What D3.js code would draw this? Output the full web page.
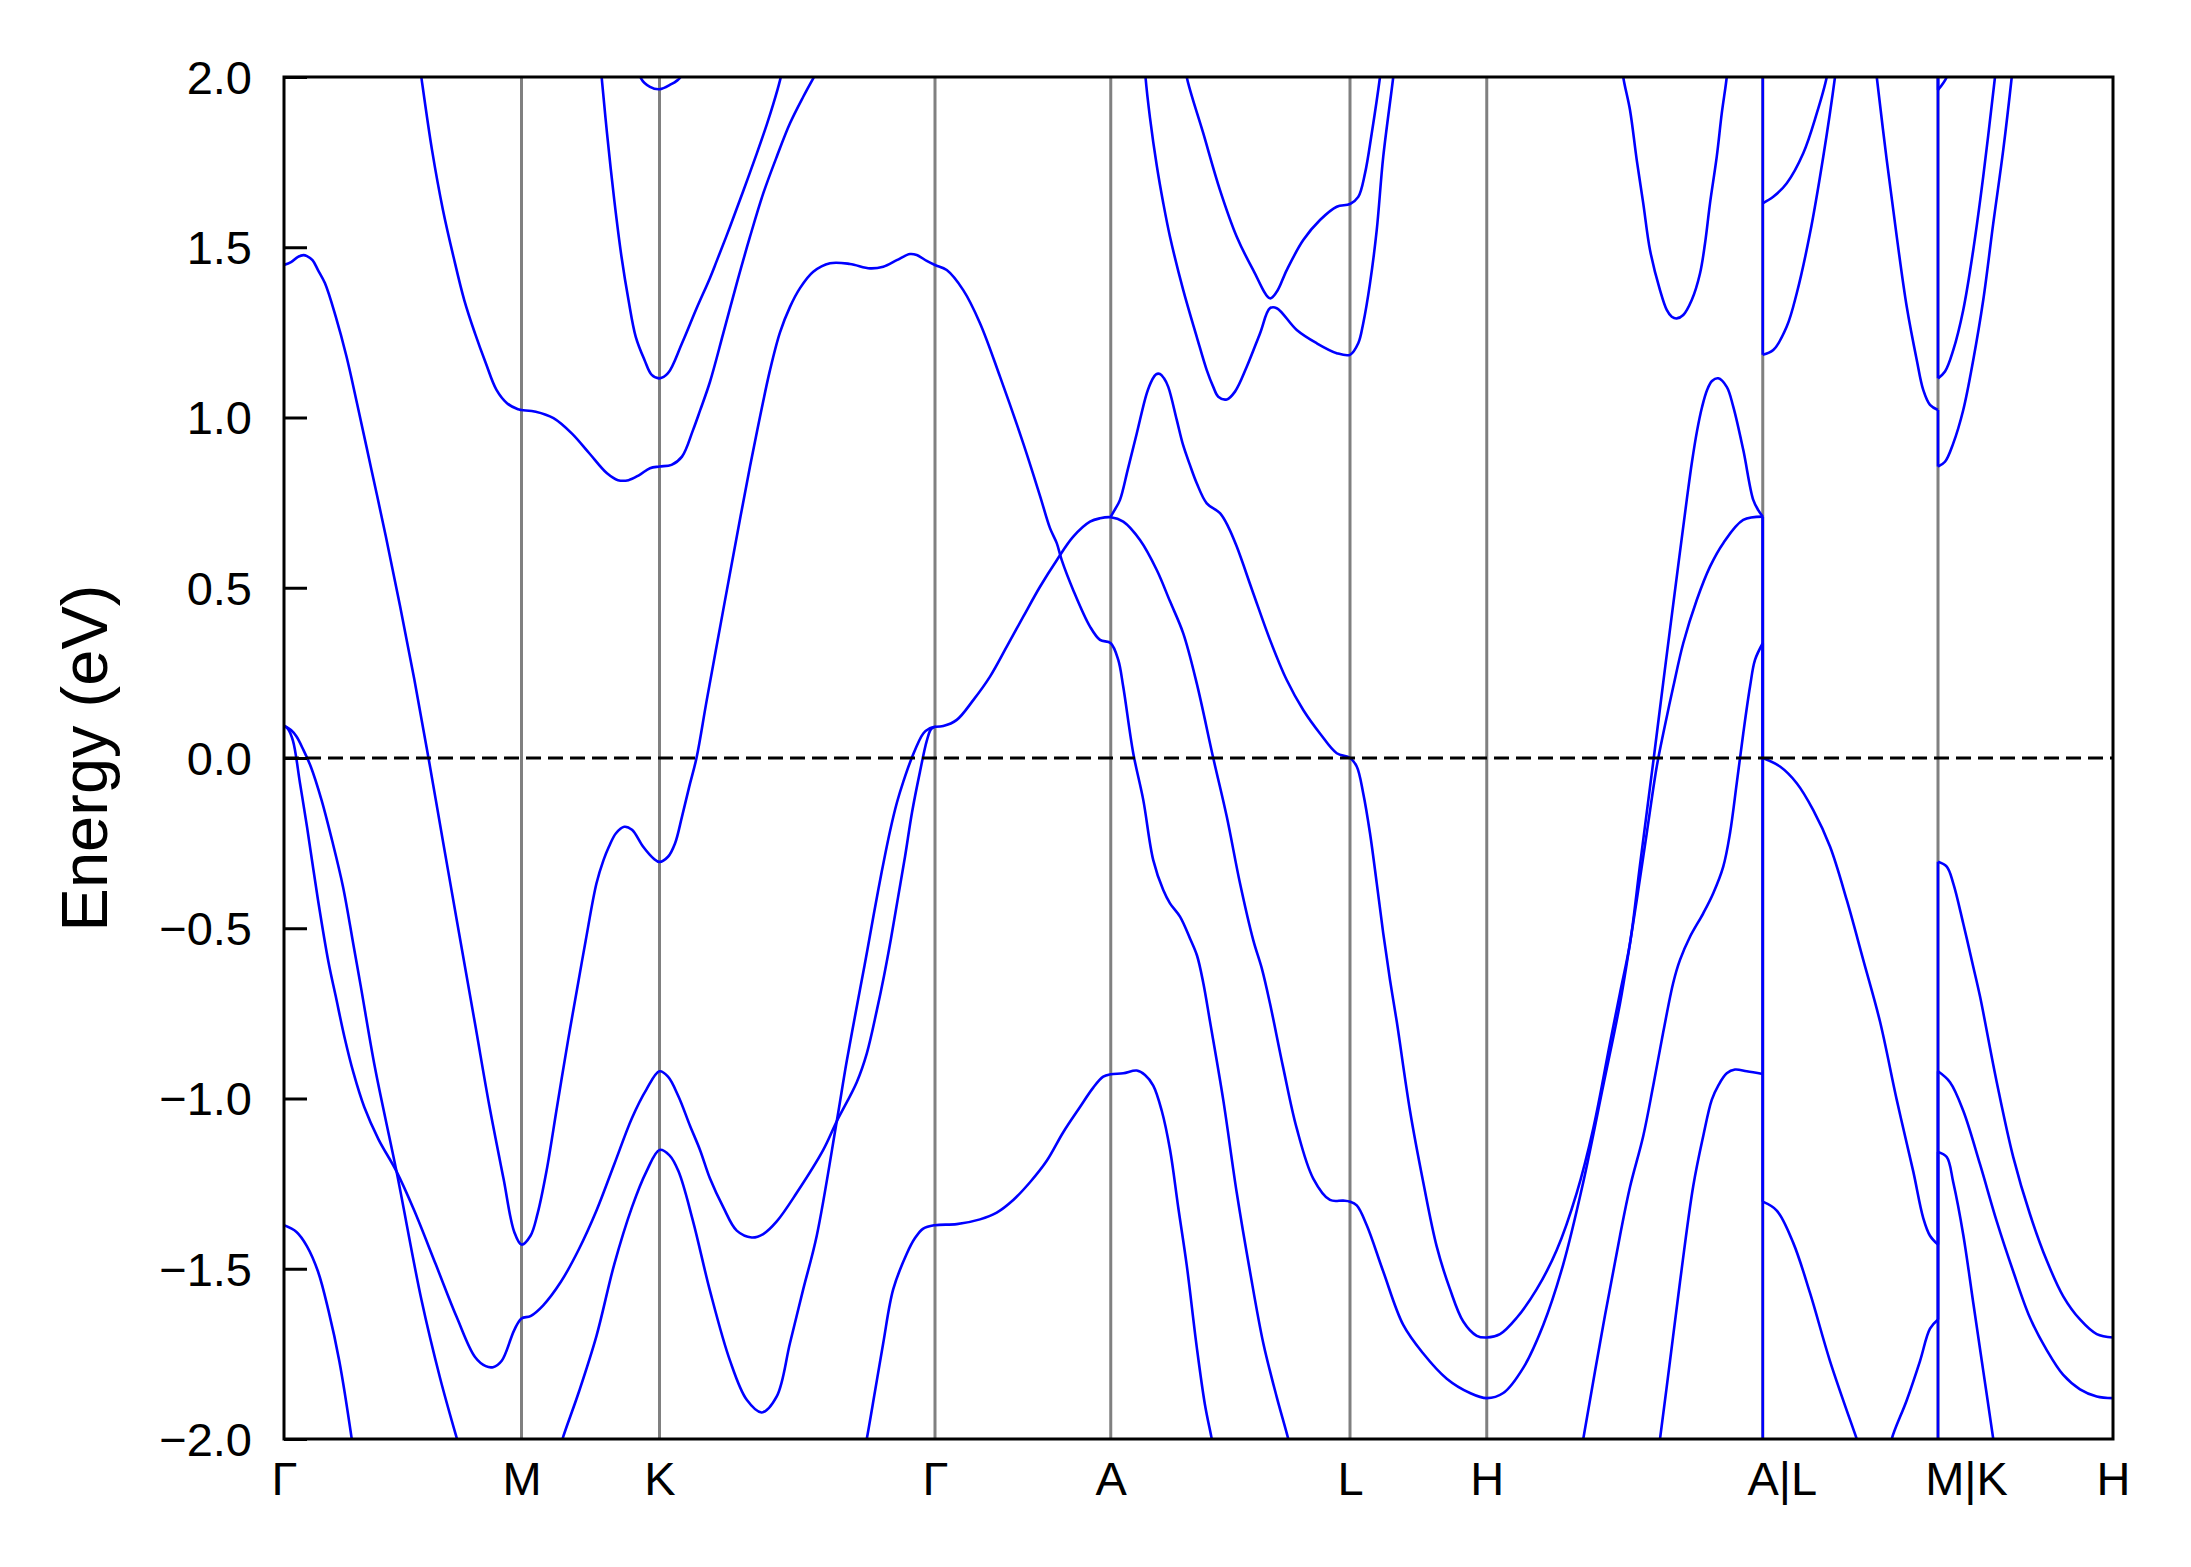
<!DOCTYPE html>
<html><head><meta charset="utf-8">
<script src="https://cdn.jsdelivr.net/npm/d3@7"></script>
<style>body{margin:0;background:#fff}svg{display:block}</style>
</head><body>
<svg id="chart" width="2191" height="1567"></svg>
<script>
// ---------- data ----------
const kPath = [0, 0.950, 1.502, 2.604, 3.307, 4.264, 4.811, 5.915, 6.616, 7.316];
const kLabels = ["Γ","M","K","Γ","A","L","H","A|L","M|K","H"];
const eTicks = [-2.0,-1.5,-1.0,-0.5,0.0,0.5,1.0,1.5,2.0];
const eTickLabels = ["−2.0","−1.5","−1.0","−0.5","0.0","0.5","1.0","1.5","2.0"];

const b01 = [[0,1.448],[0.028,1.456],[0.056,1.472],[0.078,1.477],[0.092,1.474],[0.114,1.462],[0.136,1.433],[0.164,1.394],[0.207,1.296],[0.250,1.179],[0.292,1.042],[0.350,0.846],[0.407,0.652],[0.464,0.447],[0.521,0.232],[0.578,0.0],[0.636,-0.245],[0.692,-0.480],[0.764,-0.780],[0.821,-1.020],[0.878,-1.235],[0.921,-1.392],[0.950,-1.429],[0.986,-1.403],[1.014,-1.339],[1.050,-1.213],[1.092,-1.025],[1.136,-0.830],[1.178,-0.655],[1.207,-0.535],[1.250,-0.368],[1.278,-0.300],[1.300,-0.260],[1.328,-0.221],[1.361,-0.202],[1.392,-0.211],[1.436,-0.260],[1.478,-0.295],[1.502,-0.305],[1.536,-0.290],[1.564,-0.251],[1.592,-0.172],[1.621,-0.084],[1.650,0.0],[1.691,0.170],[1.757,0.435],[1.811,0.650],[1.864,0.856],[1.904,1.002],[1.944,1.139],[1.984,1.250],[2.024,1.325],[2.064,1.380],[2.117,1.428],[2.184,1.453],[2.264,1.451],[2.344,1.438],[2.397,1.443],[2.451,1.462],[2.504,1.480],[2.531,1.477],[2.571,1.460],[2.604,1.448],[2.651,1.433],[2.717,1.374],[2.784,1.277],[2.864,1.120],[2.957,0.924],[3.024,0.770],[3.064,0.675],[3.091,0.631],[3.111,0.581],[3.157,0.493],[3.224,0.386],[3.264,0.347],[3.307,0.337],[3.337,0.288],[3.357,0.209],[3.397,0.014],[3.437,-0.123],[3.477,-0.300],[3.517,-0.388],[3.544,-0.427],[3.584,-0.466],[3.624,-0.530],[3.652,-0.580],[3.677,-0.660],[3.704,-0.774],[3.757,-1.004],[3.811,-1.277],[3.864,-1.508],[3.917,-1.718],[3.971,-1.877],[4.017,-2.0],[4.032,-2.05]];
const b02 = [[0,0.095],[0.016,0.085],[0.036,0.050],[0.064,-0.074],[0.092,-0.202],[0.136,-0.417],[0.178,-0.600],[0.207,-0.700],[0.242,-0.820],[0.278,-0.925],[0.321,-1.025],[0.378,-1.120],[0.450,-1.214],[0.521,-1.329],[0.607,-1.487],[0.692,-1.644],[0.764,-1.759],[0.807,-1.786],[0.836,-1.789],[0.871,-1.770],[0.921,-1.680],[0.950,-1.646],[0.986,-1.639],[1.036,-1.608],[1.107,-1.539],[1.178,-1.445],[1.250,-1.329],[1.321,-1.193],[1.392,-1.057],[1.450,-0.973],[1.502,-0.920],[1.536,-0.936],[1.578,-0.994],[1.624,-1.080],[1.664,-1.151],[1.704,-1.235],[1.757,-1.319],[1.811,-1.388],[1.871,-1.408],[1.917,-1.398],[1.971,-1.361],[2.051,-1.277],[2.157,-1.151],[2.211,-1.067],[2.291,-0.952],[2.331,-0.868],[2.371,-0.742],[2.400,-0.640],[2.428,-0.530],[2.456,-0.410],[2.484,-0.290],[2.512,-0.160],[2.544,-0.040],[2.571,0.050],[2.588,0.085],[2.604,0.092]];
const b03 = [[1.104,-2.03],[1.114,-2.0],[1.178,-1.865],[1.250,-1.697],[1.321,-1.487],[1.392,-1.319],[1.450,-1.214],[1.502,-1.151],[1.542,-1.167],[1.578,-1.214],[1.636,-1.360],[1.704,-1.565],[1.784,-1.770],[1.851,-1.885],[1.911,-1.922],[1.971,-1.875],[2.024,-1.718],[2.077,-1.560],[2.131,-1.403],[2.211,-1.067],[2.251,-0.890],[2.304,-0.680],[2.332,-0.570],[2.360,-0.455],[2.392,-0.330],[2.424,-0.215],[2.452,-0.130],[2.477,-0.070],[2.511,0.0],[2.557,0.072],[2.584,0.088],[2.604,0.092]];
const b04 = [[0,0.095],[0.028,0.082],[0.050,0.063],[0.078,0.023],[0.107,-0.025],[0.150,-0.123],[0.192,-0.241],[0.236,-0.378],[0.278,-0.550],[0.307,-0.670],[0.364,-0.910],[0.450,-1.214],[0.550,-1.592],[0.624,-1.820],[0.692,-2.0],[0.704,-2.03]];
const b05 = [[0,-1.372],[0.050,-1.392],[0.092,-1.434],[0.136,-1.508],[0.178,-1.623],[0.221,-1.770],[0.271,-2.0],[0.280,-2.05]];
const b06 = [[0.540,2.05],[0.550,1.996],[0.592,1.786],[0.636,1.609],[0.678,1.472],[0.721,1.345],[0.764,1.247],[0.807,1.160],[0.850,1.081],[0.892,1.042],[0.936,1.024],[0.950,1.022],[1.007,1.017],[1.078,0.998],[1.150,0.954],[1.221,0.895],[1.292,0.836],[1.336,0.816],[1.378,0.816],[1.421,0.831],[1.464,0.851],[1.502,0.856],[1.550,0.861],[1.592,0.885],[1.636,0.963],[1.664,1.020],[1.704,1.105],[1.757,1.247],[1.811,1.394],[1.864,1.531],[1.917,1.658],[1.971,1.766],[2.024,1.864],[2.077,1.942],[2.117,1.996],[2.128,2.01]];
const b07 = [[1.264,2.05],[1.271,1.996],[1.292,1.835],[1.321,1.639],[1.350,1.472],[1.378,1.345],[1.407,1.237],[1.442,1.169],[1.471,1.125],[1.502,1.115],[1.536,1.130],[1.592,1.218],[1.650,1.320],[1.704,1.410],[1.731,1.460],[1.784,1.560],[1.837,1.665],[1.891,1.775],[1.931,1.860],[1.957,1.920],[1.984,1.990],[1.996,2.03]];
const b08 = [[1.416,2.05],[1.428,1.996],[1.464,1.971],[1.502,1.964],[1.542,1.976],[1.586,2.0],[1.596,2.05]];
const b09 = [[2.604,0.092],[2.637,0.094],[2.691,0.112],[2.757,0.170],[2.824,0.239],[2.891,0.327],[2.957,0.415],[3.024,0.503],[3.091,0.581],[3.157,0.650],[3.224,0.694],[3.264,0.704],[3.307,0.707],[3.357,0.694],[3.424,0.640],[3.491,0.552],[3.544,0.460],[3.597,0.366],[3.651,0.219],[3.717,0.0],[3.771,-0.172],[3.824,-0.368],[3.877,-0.535],[3.912,-0.620],[3.944,-0.721],[3.997,-0.910],[4.051,-1.088],[4.117,-1.235],[4.184,-1.298],[4.237,-1.300],[4.264,-1.303],[4.291,-1.314],[4.331,-1.372],[4.397,-1.508],[4.477,-1.665],[4.557,-1.749],[4.651,-1.823],[4.744,-1.865],[4.811,-1.880],[4.877,-1.865],[4.957,-1.791],[5.037,-1.665],[5.117,-1.487],[5.197,-1.246],[5.277,-0.962],[5.344,-0.721],[5.384,-0.544],[5.411,-0.417],[5.451,-0.221],[5.491,-0.025],[5.517,0.072],[5.557,0.209],[5.597,0.337],[5.651,0.464],[5.704,0.562],[5.757,0.631],[5.837,0.699],[5.915,0.709]];
const b10 = [[5.915,0.0],[5.984,-0.025],[6.051,-0.074],[6.117,-0.153],[6.184,-0.260],[6.251,-0.417],[6.317,-0.593],[6.384,-0.774],[6.451,-1.004],[6.517,-1.214],[6.557,-1.351],[6.584,-1.403],[6.616,-1.429]];
const b11 = [[6.616,-0.305],[6.651,-0.319],[6.677,-0.368],[6.717,-0.486],[6.757,-0.613],[6.784,-0.700],[6.851,-0.952],[6.917,-1.172],[6.984,-1.340],[7.051,-1.476],[7.117,-1.581],[7.184,-1.649],[7.251,-1.692],[7.316,-1.702]];
const b12 = [[3.307,0.709],[3.324,0.730],[3.344,0.758],[3.376,0.850],[3.411,0.953],[3.451,1.071],[3.472,1.110],[3.488,1.127],[3.504,1.128],[3.520,1.115],[3.537,1.090],[3.571,0.993],[3.596,0.920],[3.624,0.860],[3.651,0.807],[3.691,0.748],[3.744,0.719],[3.777,0.679],[3.811,0.621],[3.877,0.484],[3.944,0.347],[4.011,0.229],[4.077,0.141],[4.144,0.072],[4.211,0.014],[4.264,0.0],[4.291,-0.025],[4.317,-0.104],[4.344,-0.221],[4.371,-0.368],[4.397,-0.515],[4.424,-0.652],[4.451,-0.774],[4.504,-1.036],[4.557,-1.246],[4.611,-1.435],[4.664,-1.560],[4.717,-1.655],[4.771,-1.697],[4.811,-1.702],[4.864,-1.692],[4.931,-1.644],[5.011,-1.560],[5.091,-1.445],[5.171,-1.277],[5.237,-1.088],[5.304,-0.837],[5.344,-0.690],[5.384,-0.544],[5.424,-0.314],[5.479,0.0],[5.517,0.222],[5.557,0.452],[5.611,0.758],[5.632,0.870],[5.652,0.960],[5.672,1.030],[5.692,1.080],[5.712,1.107],[5.737,1.115],[5.771,1.090],[5.797,1.032],[5.837,0.905],[5.877,0.758],[5.897,0.728],[5.915,0.709]];
const b13 = [[5.915,-1.303],[5.971,-1.329],[6.037,-1.424],[6.104,-1.571],[6.184,-1.771],[6.291,-2.0],[6.305,-2.03]];
const b14 = [[2.320,-2.04],[2.331,-2.0],[2.364,-1.860],[2.397,-1.718],[2.437,-1.560],[2.491,-1.456],[2.524,-1.410],[2.557,-1.382],[2.604,-1.372],[2.691,-1.369],[2.784,-1.355],[2.851,-1.335],[2.917,-1.298],[2.984,-1.246],[3.051,-1.183],[3.117,-1.099],[3.184,-1.025],[3.237,-0.968],[3.277,-0.936],[3.307,-0.929],[3.357,-0.926],[3.411,-0.918],[3.444,-0.931],[3.477,-0.962],[3.511,-1.036],[3.544,-1.150],[3.577,-1.320],[3.611,-1.490],[3.651,-1.730],[3.684,-1.900],[3.711,-2.0],[3.720,-2.04]];
const b15 = [[3.442,2.05],[3.446,2.0],[3.464,1.880],[3.491,1.740],[3.517,1.630],[3.544,1.531],[3.597,1.374],[3.651,1.237],[3.691,1.139],[3.717,1.090],[3.737,1.061],[3.771,1.053],[3.804,1.076],[3.851,1.149],[3.904,1.247],[3.944,1.321],[3.971,1.321],[4.051,1.257],[4.131,1.218],[4.211,1.189],[4.264,1.184],[4.297,1.218],[4.317,1.277],[4.344,1.394],[4.371,1.551],[4.397,1.766],[4.437,2.0],[4.444,2.05]];
const b16 = [[3.604,2.05],[3.611,2.0],[3.677,1.835],[3.744,1.668],[3.811,1.531],[3.877,1.433],[3.944,1.350],[3.971,1.369],[4.011,1.433],[4.077,1.521],[4.144,1.580],[4.211,1.619],[4.264,1.627],[4.297,1.648],[4.324,1.717],[4.351,1.835],[4.384,2.0],[4.392,2.05]];
const b17 = [[5.352,2.05],[5.357,2.0],[5.384,1.903],[5.411,1.756],[5.437,1.629],[5.464,1.492],[5.504,1.374],[5.531,1.316],[5.551,1.296],[5.571,1.291],[5.597,1.301],[5.631,1.345],[5.664,1.423],[5.684,1.511],[5.704,1.629],[5.731,1.766],[5.751,1.893],[5.771,2.0],[5.776,2.05]];
const b18 = [[5.188,-2.04],[5.197,-2.0],[5.277,-1.665],[5.344,-1.403],[5.384,-1.260],[5.437,-1.110],[5.477,-0.962],[5.517,-0.805],[5.557,-0.660],[5.584,-0.593],[5.624,-0.525],[5.677,-0.456],[5.717,-0.397],[5.757,-0.319],[5.784,-0.221],[5.811,-0.074],[5.837,0.072],[5.864,0.209],[5.884,0.288],[5.915,0.337]];
const b19 = [[5.496,-2.04],[5.504,-2.0],[5.544,-1.771],[5.584,-1.539],[5.637,-1.257],[5.677,-1.110],[5.711,-1.004],[5.737,-0.962],[5.771,-0.926],[5.804,-0.915],[5.851,-0.920],[5.915,-0.928]];
const b20 = [[5.915,1.629],[5.957,1.648],[6.011,1.688],[6.077,1.776],[6.131,1.893],[6.171,2.0],[6.180,2.05]];
const b21 = [[5.915,1.184],[5.957,1.198],[6.011,1.267],[6.051,1.365],[6.104,1.541],[6.157,1.766],[6.204,2.0],[6.212,2.05]];
const b22 = [[6.364,2.05],[6.371,2.0],[6.411,1.756],[6.451,1.531],[6.491,1.325],[6.531,1.169],[6.557,1.081],[6.584,1.037],[6.616,1.022]];
const b23 = [[6.616,0.856],[6.644,0.870],[6.677,0.924],[6.717,1.022],[6.757,1.169],[6.797,1.345],[6.837,1.570],[6.877,1.786],[6.911,2.0],[6.918,2.05]];
const b24 = [[6.424,-2.04],[6.431,-2.0],[6.491,-1.886],[6.544,-1.771],[6.584,-1.676],[6.616,-1.649]];
const b25 = [[6.616,-0.920],[6.664,-0.952],[6.717,-1.036],[6.784,-1.193],[6.851,-1.361],[6.917,-1.508],[6.984,-1.644],[7.051,-1.739],[7.117,-1.812],[7.184,-1.854],[7.251,-1.875],[7.316,-1.880]];
const b26 = [[6.616,1.115],[6.644,1.135],[6.677,1.198],[6.717,1.316],[6.757,1.492],[6.797,1.708],[6.844,2.0],[6.852,2.05]];
const b27 = [[6.616,1.962],[6.651,2.0],[6.664,2.05]];
const b28 = [[6.616,-1.157],[6.651,-1.172],[6.677,-1.246],[6.717,-1.400],[6.757,-1.600],[6.797,-1.800],[6.837,-2.0],[6.844,-2.04]];

// vertical band connections at the path discontinuities (energy from, energy to)
const jumpAL = [[0.709,0.0],[0.709,-1.303],[0.337,-2.1],[1.184,2.1]];
const jumpMK = [[-1.429,-0.305],[-1.649,-0.920],[-1.157,-2.1],[1.022,0.856],[1.115,2.1],[1.962,2.1]];

const bands = [b01,b02,b03,b04,b05,b06,b07,b08,b09,b10,b11,b12,b13,b14,b15,b16,b17,b18,b19,b20,b21,b22,b23,b24,b25,b26,b27,b28];

// ---------- layout ----------
const W = 2191, H = 1567;
const L = 284, R = 2113, T = 77, B = 1439;
const FONT = "'Liberation Sans', Arial, Helvetica, sans-serif";
const svg = d3.select("#chart");
svg.append("rect").attr("width", W).attr("height", H).attr("fill", "#fff");

const x = d3.scaleLinear().domain([kPath[0], kPath[kPath.length-1]]).range([L, R]);
const y = d3.scaleLinear().domain([-2, 2]).range([B, T]);

svg.append("defs").append("clipPath").attr("id", "plotclip")
  .append("rect").attr("x", L).attr("y", T).attr("width", R-L).attr("height", B-T);

// high-symmetry vertical lines
svg.append("g").selectAll("line").data(kPath.slice(1, -1)).join("line")
  .attr("x1", d => x(d)).attr("x2", d => x(d))
  .attr("y1", T).attr("y2", B)
  .attr("stroke", "#808080").attr("stroke-width", 3);

// bands
const plot = svg.append("g").attr("clip-path", "url(#plotclip)");
const line = d3.line().x(d => x(d[0])).y(d => y(d[1])).curve(d3.curveCatmullRom.alpha(0.5));
plot.selectAll("path.band").data(bands).join("path")
  .attr("class", "band")
  .attr("d", line)
  .attr("fill", "none").attr("stroke", "#0000ff").attr("stroke-width", 2.6)
  .attr("stroke-linejoin", "round").attr("stroke-linecap", "butt");

function drawJumps(arr, k) {
  plot.append("g").selectAll("line").data(arr).join("line")
    .attr("x1", x(k)).attr("x2", x(k))
    .attr("y1", d => y(d[0])).attr("y2", d => y(d[1]))
    .attr("stroke", "#0000ff").attr("stroke-width", 2.6);
}
drawJumps(jumpAL, kPath[7]);
drawJumps(jumpMK, kPath[8]);

// Fermi level
svg.append("line")
  .attr("x1", L).attr("x2", R).attr("y1", y(0)).attr("y2", y(0))
  .attr("stroke", "#000").attr("stroke-width", 3).attr("stroke-dasharray", "15,7");

// frame
svg.append("rect").attr("x", L).attr("y", T).attr("width", R-L).attr("height", B-T)
  .attr("fill", "none").attr("stroke", "#000").attr("stroke-width", 3);

// y axis
const yAxis = d3.axisLeft(y).tickValues(eTicks)
  .tickFormat((d, i) => eTickLabels[i])
  .tickSizeInner(-23).tickSizeOuter(0).tickPadding(32);
const gy = svg.append("g").attr("transform", `translate(${L},0)`).call(yAxis);
gy.select(".domain").remove();
gy.selectAll(".tick line").attr("stroke", "#000").attr("stroke-width", 3);
gy.selectAll(".tick text").attr("font-family", FONT).attr("font-size", 47).attr("fill", "#000").attr("dy", "0.35em");

// x axis labels
const labelDx = [0,0,0,0,0,0,0,19,28,0];
const xAxis = d3.axisBottom(x).tickValues(kPath)
  .tickFormat((d, i) => kLabels[i]).tickSize(0).tickPadding(23);
const gx = svg.append("g").attr("transform", `translate(0,${B})`).call(xAxis);
gx.select(".domain").remove();
gx.selectAll(".tick text").attr("font-family", FONT).attr("font-size", 47).attr("fill", "#000")
  .attr("dx", (d, i) => labelDx[i]);

// y label
svg.append("text")
  .attr("transform", `translate(107,${(T+B)/2}) rotate(-90)`)
  .attr("text-anchor", "middle")
  .attr("font-family", FONT).attr("font-size", 65).attr("fill", "#000")
  .text("Energy (eV)");
</script>
</body></html>
